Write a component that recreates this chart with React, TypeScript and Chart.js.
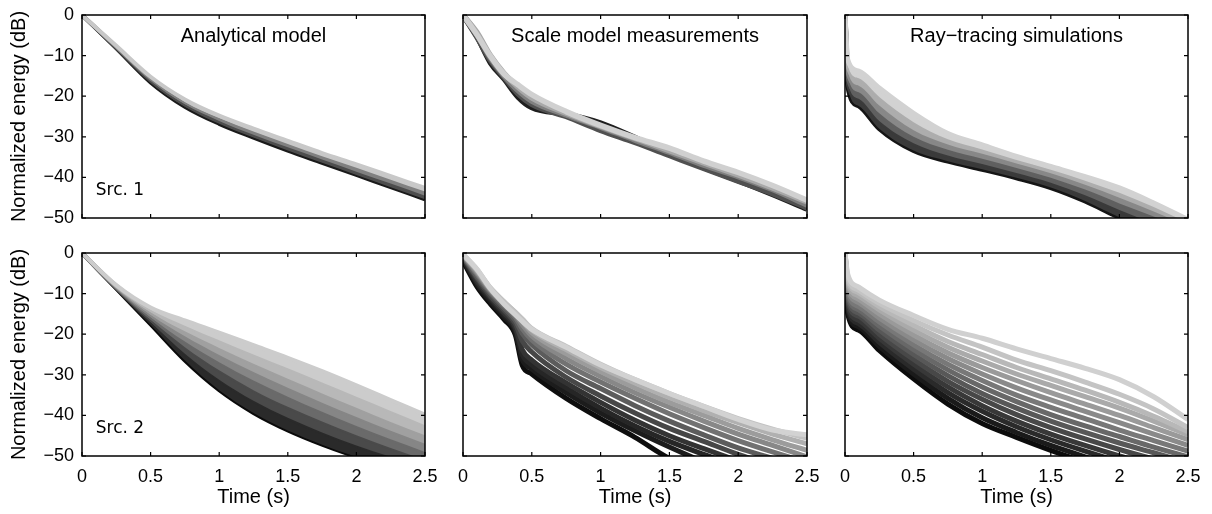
import React, { useEffect, useRef } from "react";
import { Chart, registerables } from "chart.js";

Chart.register(...registerables);

// ---------- text ----------
const PANEL_TITLES = ["Analytical model", "Scale model measurements", "Ray−tracing simulations"];
const SOURCE_LABELS = ["Src. 1", "Src. 2"];
const X_TITLE = "Time (s)";
const Y_TITLE = "Normalized energy (dB)";

// ---------- axes ----------
const X_TICKS = [0, 0.5, 1, 1.5, 2, 2.5];
const Y_TICKS = [0, -10, -20, -30, -40, -50];

// ---------- Analytical model (times in s, energy in dB), darkest -> lightest ----------
const T_ANALYTIC = [0, 0.25, 0.5, 0.75, 1, 1.25, 1.5, 1.75, 2, 2.25, 2.5];
const ANALYTIC_SRC1 = [
  [0, -8.2, -16.6, -22.6, -26.8, -30.2, -33.4, -36.4, -39.4, -42.4, -45.4],
  [0, -8.0, -16.1, -22.0, -26.1, -29.5, -32.6, -35.6, -38.6, -41.5, -44.5],
  [0, -7.8, -15.6, -21.4, -25.4, -28.7, -31.8, -34.8, -37.6, -40.6, -43.5],
  [0, -7.6, -15.2, -20.8, -24.8, -28.0, -31.0, -34.0, -36.8, -39.7, -42.6],
];
const ANALYTIC_SRC2 = [
  [0, -8.8, -17.6, -26.5, -33.8, -39.4, -43.7, -47.2, -50.2, -52.8, -55.2],
  [0, -8.7, -17.0, -24.8, -31.2, -36.4, -40.6, -44.2, -47.4, -50.2, -52.9],
  [0, -8.6, -16.4, -23.2, -28.9, -33.8, -37.9, -41.5, -44.9, -48.0, -51.0],
  [0, -8.5, -15.8, -21.8, -26.9, -31.4, -35.4, -39.1, -42.6, -45.9, -49.0],
  [0, -8.3, -15.2, -20.5, -25.1, -29.3, -33.2, -36.9, -40.4, -43.8, -47.0],
  [0, -8.2, -14.6, -19.3, -23.4, -27.3, -31.0, -34.6, -38.1, -41.6, -44.9],
  [0, -8.0, -14.0, -17.9, -21.5, -25.0, -28.4, -31.9, -35.4, -38.9, -42.4],
  [0, -7.9, -13.4, -16.6, -19.6, -22.7, -25.8, -29.1, -32.6, -36.2, -39.8],
];

// ---------- Scale model measurements ----------
const T_SCALE_SRC1 = [0, 0.1, 0.2, 0.3, 0.4, 0.5, 0.75, 1.0, 1.25, 1.5, 1.75, 2.0, 2.25, 2.5];
const SCALE_SRC1 = [
  [0, -5.2, -11.8, -15.8, -20.2, -22.8, -24.4, -26.6, -30.2, -34.2, -37.6, -40.8, -44.2, -47.8],
  [0, -5.4, -11.2, -15.4, -19.4, -22.0, -25.0, -28.4, -31.4, -34.6, -37.8, -40.9, -44.0, -47.5],
  [0, -4.6, -10.6, -15.0, -18.6, -21.2, -24.6, -27.6, -30.8, -33.8, -37.0, -39.8, -43.0, -46.8],
  [0, -4.2, -10.0, -14.4, -17.8, -20.4, -24.2, -27.4, -30.4, -33.4, -36.4, -39.4, -42.6, -46.0],
  [0, -4.8, -10.2, -14.6, -17.2, -19.6, -23.8, -27.2, -30.2, -32.8, -36.0, -38.8, -42.0, -45.6],
];
const T_SCALE_SRC2 = [0, 0.1, 0.2, 0.3, 0.38, 0.43, 0.5, 0.75, 1.0, 1.25, 1.5, 1.75, 2.0, 2.25, 2.5];
const SCALE_SRC2 = [
  [-2.0, -8.2, -12.6, -16.4, -20.2, -27.6, -29.8, -35.8, -40.8, -45.4, -50.6, -54.0, -57.0, -60.0, -63.0],
  [-1.5, -7.6, -12.0, -15.8, -19.4, -26.2, -28.6, -34.4, -39.4, -43.8, -47.8, -51.5, -55.0, -58.0, -61.0],
  [-1.5, -7.2, -11.4, -15.2, -18.8, -25.0, -27.6, -33.2, -38.2, -42.6, -46.4, -49.6, -52.6, -55.5, -58.0],
  [-1.0, -6.8, -11.0, -14.8, -18.2, -23.8, -26.4, -32.0, -36.8, -41.2, -45.0, -48.2, -51.2, -54.0, -56.5],
  [-1.0, -6.2, -10.6, -14.2, -17.4, -21.6, -24.4, -30.6, -35.2, -39.4, -43.2, -46.4, -49.6, -52.4, -55.0],
  [-0.8, -5.8, -10.0, -13.6, -16.6, -19.8, -22.6, -29.0, -33.4, -37.6, -41.4, -44.8, -48.0, -50.6, -53.0],
  [-0.6, -5.2, -9.6, -13.0, -15.8, -18.6, -21.4, -27.4, -31.8, -35.8, -39.6, -43.0, -46.2, -49.0, -51.6],
  [-0.5, -4.8, -9.2, -12.6, -15.2, -17.6, -20.4, -26.0, -30.4, -34.4, -38.0, -41.4, -44.6, -47.4, -50.2],
  [-0.5, -4.4, -9.0, -12.4, -14.8, -16.8, -19.6, -24.8, -29.2, -33.2, -36.8, -40.0, -43.2, -46.0, -48.6],
  [-0.4, -4.2, -8.8, -12.2, -14.6, -16.4, -19.0, -23.8, -28.2, -32.0, -35.6, -38.8, -41.8, -44.6, -47.0],
  [-0.4, -4.0, -8.6, -12.0, -14.6, -16.2, -18.6, -23.0, -27.4, -31.2, -34.6, -37.8, -40.8, -43.4, -45.6],
  [-0.3, -3.9, -8.8, -12.6, -15.2, -16.8, -18.8, -23.2, -27.6, -31.2, -34.6, -37.8, -41.0, -43.6, -44.8],
];

// ---------- Ray-tracing simulations ----------
const T_RAY = [0, 0.02, 0.1, 0.25, 0.5, 0.75, 1, 1.25, 1.5, 1.75, 2, 2.25, 2.5];
const RAY_SRC1 = [
  [0, -17.5, -22.4, -28.0, -33.4, -36.0, -38.0, -40.1, -42.5, -45.8, -49.8, -53.0, -56.0],
  [0, -16.3, -20.6, -26.1, -31.6, -34.6, -36.7, -38.9, -41.3, -44.4, -48.0, -51.4, -54.6],
  [0, -15.0, -19.0, -24.2, -30.0, -33.2, -35.4, -37.7, -40.1, -43.0, -46.4, -49.6, -53.2],
  [0, -13.8, -17.4, -22.3, -28.4, -31.9, -34.2, -36.6, -39.0, -41.8, -45.0, -48.4, -52.0],
  [0, -12.4, -15.6, -20.2, -26.4, -30.6, -33.1, -35.7, -38.1, -40.8, -43.8, -47.3, -51.2],
  [0, -11.0, -13.8, -18.0, -24.2, -29.2, -32.0, -34.8, -37.3, -39.8, -42.6, -46.3, -50.4],
];
const RAY_SRC2 = [
  [0, -15.0, -19.0, -24.0, -31.0, -37.2, -42.0, -45.4, -48.6, -51.5, -54.0, -56.5, -59.0],
  [0, -14.2, -18.2, -23.0, -29.8, -35.8, -40.6, -44.2, -47.4, -50.2, -52.8, -55.2, -57.6],
  [0, -13.4, -17.4, -22.0, -28.6, -34.4, -39.0, -42.8, -46.0, -48.8, -51.4, -53.8, -56.2],
  [0, -12.6, -16.6, -21.0, -27.4, -33.0, -37.6, -41.4, -44.6, -47.4, -50.0, -52.4, -54.8],
  [0, -11.8, -15.6, -20.0, -26.2, -31.6, -36.0, -39.8, -43.0, -45.8, -48.4, -50.8, -53.2],
  [0, -11.0, -14.8, -19.0, -25.0, -30.2, -34.6, -38.2, -41.4, -44.2, -46.8, -49.2, -51.6],
  [0, -10.2, -14.0, -18.0, -23.8, -28.8, -33.0, -36.6, -39.8, -42.6, -45.2, -47.8, -50.2],
  [0, -9.4, -13.2, -17.0, -22.6, -27.4, -31.4, -35.0, -38.0, -40.8, -43.6, -46.2, -48.8],
  [0, -8.6, -12.2, -16.0, -21.4, -26.0, -29.8, -33.2, -36.2, -39.0, -41.8, -44.6, -47.4],
  [0, -7.8, -11.4, -15.0, -20.2, -24.6, -28.2, -31.4, -34.4, -37.2, -40.0, -43.0, -46.0],
  [0, -7.2, -10.6, -14.0, -19.0, -23.2, -26.6, -29.8, -32.6, -35.4, -38.2, -41.4, -44.8],
  [0, -6.6, -9.8, -13.2, -17.8, -21.8, -25.0, -28.2, -31.0, -33.8, -36.8, -40.2, -44.0],
  [0, -6.0, -9.2, -12.4, -16.6, -20.2, -23.2, -26.4, -29.0, -31.8, -34.8, -38.4, -43.0],
  [0, -5.2, -8.4, -11.6, -15.4, -18.8, -21.0, -23.6, -26.0, -28.4, -31.2, -35.4, -41.0],
];

// ---------- styles ----------
const SHADES_ANALYTIC_SRC1 = ["#1a1a1a", "#4d4d4d", "#808080", "#c8c8c8"];
const SHADES_ANALYTIC_SRC2 = ["#0a0a0a", "#2a2a2a", "#4a4a4a", "#6a6a6a", "#868686", "#a0a0a0", "#b8b8b8", "#cccccc"];
const SHADES_SCALE_SRC1 = ["#1e1e1e", "#505050", "#808080", "#a8a8a8", "#d0d0d0"];
const SHADES_SCALE_SRC2 = ["#0e0e0e", "#1c1c1c", "#262626", "#333333", "#474747", "#5c5c5c", "#727272", "#888888", "#9c9c9c", "#b0b0b0", "#c2c2c2", "#d2d2d2"];
const SHADES_RAY_SRC1 = ["#151515", "#3a3a3a", "#606060", "#888888", "#adadad", "#d2d2d2"];
const SHADES_RAY_SRC2 = ["#0c0c0c", "#1a1a1a", "#2a2a2a", "#383838", "#484848", "#585858", "#686868", "#787878", "#8a8a8a", "#9a9a9a", "#aaaaaa", "#b8b8b8", "#c4c4c4", "#d0d0d0"];

const FONT = "'Liberation Sans', Arial, Helvetica, sans-serif";
const SRC_FONT = "'DejaVu Sans', sans-serif";

// plot-area geometry in page pixels
const COL_LEFT = [82, 463, 845];
const COL_RIGHT = [425, 807, 1188];
const ROW_TOP = [15, 253];
const ROW_BOTTOM = [218, 456];
const PAGE_H = 514;

const TITLE_POS = { x: 1.25, y: -6.7 };
const SRC_POS = { x: 0.1, y: -44.3 };

type PanelSpec = {
  row: number;
  col: number;
  times: number[];
  curves: number[][];
  shades: string[];
  width: number;
  fill: boolean;
};

const PANELS: PanelSpec[] = [
  { row: 0, col: 0, times: T_ANALYTIC, curves: ANALYTIC_SRC1, shades: SHADES_ANALYTIC_SRC1, width: 4, fill: true },
  { row: 0, col: 1, times: T_SCALE_SRC1, curves: SCALE_SRC1, shades: SHADES_SCALE_SRC1, width: 5.5, fill: false },
  { row: 0, col: 2, times: T_RAY, curves: RAY_SRC1, shades: SHADES_RAY_SRC1, width: 5, fill: true },
  { row: 1, col: 0, times: T_ANALYTIC, curves: ANALYTIC_SRC2, shades: SHADES_ANALYTIC_SRC2, width: 4, fill: true },
  { row: 1, col: 1, times: T_SCALE_SRC2, curves: SCALE_SRC2, shades: SHADES_SCALE_SRC2, width: 5, fill: false },
  { row: 1, col: 2, times: T_RAY, curves: RAY_SRC2, shades: SHADES_RAY_SRC2, width: 5, fill: false },
];

function geometry(row: number, col: number) {
  const left = col === 0 ? 0 : COL_LEFT[col] - 24;
  const padL = COL_LEFT[col] - left;
  const padR = 24;
  const width = COL_RIGHT[col] + padR - left;
  const padT = 24;
  const top = ROW_TOP[row] - padT;
  const bottom = row === 0 ? ROW_BOTTOM[0] + 24 : PAGE_H;
  const padB = bottom - ROW_BOTTOM[row];
  return { left, top, width, height: bottom - top, padL, padR, padT, padB };
}

const fmt = (v: number) => (v < 0 ? "−" + Math.abs(v) : String(v));

function framePlugin(spec: PanelSpec) {
  return {
    id: "matlabFrame",
    afterDatasetsDraw(chart: any) {
      const { ctx, chartArea: a } = chart;
      const xs = chart.scales.x;
      const ys = chart.scales.y;
      const TL = 4;
      ctx.save();
      ctx.strokeStyle = "#000";
      ctx.lineWidth = 1.2;
      ctx.beginPath();
      X_TICKS.forEach((v) => {
        const p = xs.getPixelForValue(v);
        ctx.moveTo(p, a.bottom);
        ctx.lineTo(p, a.bottom - TL);
        ctx.moveTo(p, a.top);
        ctx.lineTo(p, a.top + TL);
      });
      Y_TICKS.forEach((v) => {
        const p = ys.getPixelForValue(v);
        ctx.moveTo(a.left, p);
        ctx.lineTo(a.left + TL, p);
        ctx.moveTo(a.right, p);
        ctx.lineTo(a.right - TL, p);
      });
      ctx.stroke();
      ctx.lineWidth = 1.5;
      ctx.strokeRect(a.left, a.top, a.right - a.left, a.bottom - a.top);
      ctx.fillStyle = "#000";
      if (spec.row === 0) {
        ctx.font = `20px ${FONT}`;
        ctx.textAlign = "center";
        ctx.textBaseline = "alphabetic";
        ctx.fillText(PANEL_TITLES[spec.col], xs.getPixelForValue(TITLE_POS.x), ys.getPixelForValue(TITLE_POS.y));
      }
      if (spec.col === 0) {
        ctx.font = `17px ${SRC_FONT}`;
        ctx.textAlign = "left";
        ctx.textBaseline = "alphabetic";
        ctx.fillText(SOURCE_LABELS[spec.row], xs.getPixelForValue(SRC_POS.x), ys.getPixelForValue(SRC_POS.y));
      }
      ctx.restore();
    },
  };
}

function Panel({ spec }: { spec: PanelSpec }) {
  const ref = useRef<HTMLCanvasElement>(null);
  const g = geometry(spec.row, spec.col);
  useEffect(() => {
    const n = spec.curves.length;
    const datasets = spec.curves.map((vals, i) => ({
      data: vals.map((v, j) => ({ x: spec.times[j], y: v })),
      borderColor: spec.shades[i],
      backgroundColor: spec.shades[i],
      borderWidth: spec.width,
      pointRadius: 0,
      fill: spec.fill && i > 0 ? "-1" : false,
      cubicInterpolationMode: "monotone" as const,
      order: n - i,
      clip: 0,
    }));
    const showX = spec.row === 1;
    const showY = spec.col === 0;
    const chart = new Chart(ref.current!, {
      type: "line",
      data: { datasets },
      options: {
        animation: false,
        responsive: false,
        maintainAspectRatio: false,
        events: [],
        layout: { padding: { left: 0, top: g.padT, right: g.padR, bottom: 0 } },
        plugins: { legend: { display: false }, tooltip: { enabled: false } },
        scales: {
          x: {
            type: "linear",
            min: 0,
            max: 2.5,
            afterBuildTicks: (s: any) => {
              s.ticks = X_TICKS.map((v) => ({ value: v }));
            },
            afterFit: (s: any) => {
              s.height = g.padB;
            },
            grid: { display: false, drawTicks: false },
            border: { display: false },
            ticks: {
              display: showX,
              autoSkip: false,
              maxRotation: 0,
              padding: 10,
              color: "#000",
              font: { family: FONT, size: 18 },
              callback: (v: any) => fmt(Number(v)),
            },
            title: {
              display: showX,
              text: X_TITLE,
              color: "#000",
              font: { family: FONT, size: 20 },
              padding: { top: 0, bottom: 4.6 },
            },
          },
          y: {
            type: "linear",
            min: -50,
            max: 0,
            afterBuildTicks: (s: any) => {
              s.ticks = Y_TICKS.map((v) => ({ value: v }));
            },
            afterFit: (s: any) => {
              s.width = g.padL;
            },
            grid: { display: false, drawTicks: false },
            border: { display: false },
            ticks: {
              display: showY,
              autoSkip: false,
              padding: 8,
              color: "#000",
              font: { family: FONT, size: 18 },
              callback: (v: any) => fmt(Number(v)),
            },
            title: {
              display: showY,
              text: Y_TITLE,
              color: "#000",
              font: { family: FONT, size: 20 },
              padding: { top: 7, bottom: 0 },
            },
          },
        },
      } as any,
      plugins: [framePlugin(spec)],
    });
    return () => chart.destroy();
  }, []);
  return (
    <canvas
      ref={ref}
      width={g.width}
      height={g.height}
      style={{ position: "absolute", left: g.left, top: g.top, width: g.width, height: g.height }}
    />
  );
}

export default function App() {
  return (
    <div style={{ position: "absolute", left: 0, top: 0, width: 1212, height: PAGE_H, background: "#fff", overflow: "hidden" }}>
      {PANELS.map((p) => (
        <Panel key={`${p.row}-${p.col}`} spec={p} />
      ))}
    </div>
  );
}
